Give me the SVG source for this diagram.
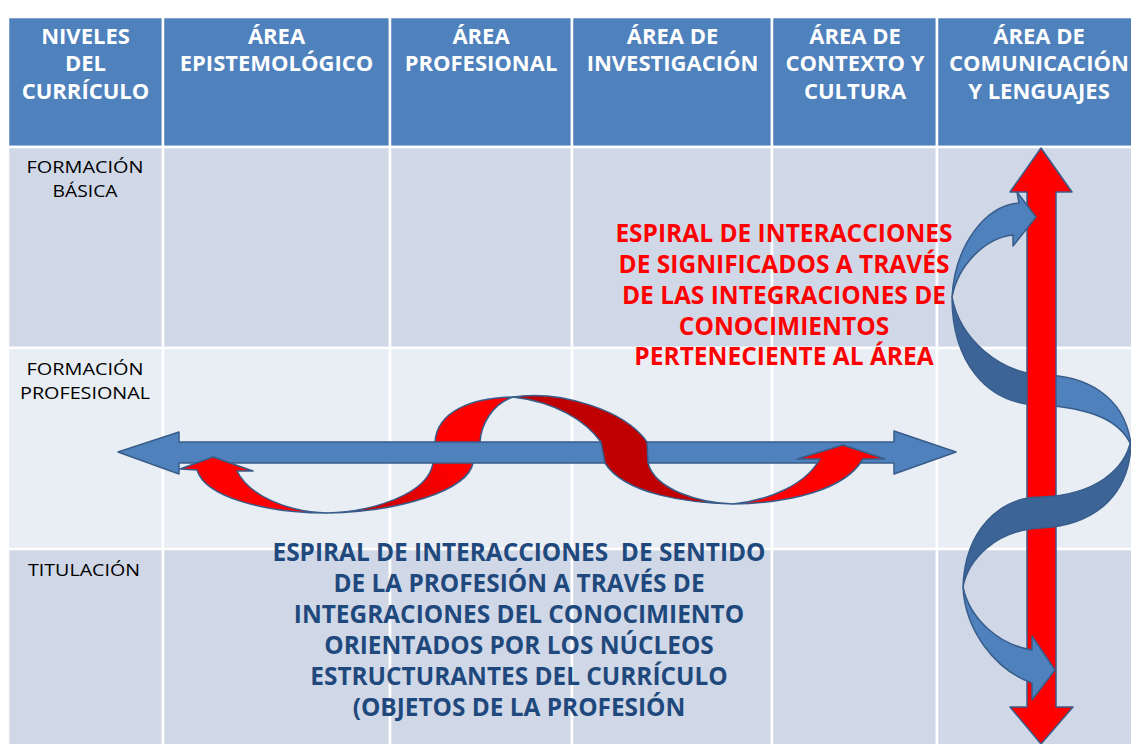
<svg xmlns="http://www.w3.org/2000/svg" width="1131" height="744" viewBox="0 0 1131 744">
<defs>
<style>
.hd{fill:#4F81BD;stroke:#FFFFFF;stroke-width:2.5}
.dk{fill:#D0D8E8;stroke:#FFFFFF;stroke-width:2.5}
.lt{fill:#E9EDF4;stroke:#FFFFFF;stroke-width:2.5}
.ht{font-family:"Open Sans","Liberation Sans",sans-serif;font-weight:bold;font-size:22px;fill:#FFFFFF;text-anchor:middle}
.rl{font-family:"Open Sans","Liberation Sans",sans-serif;font-size:17px;fill:#000000;text-anchor:middle}
.rt{font-family:"Open Sans","Liberation Sans",sans-serif;font-weight:bold;font-size:24.5px;fill:#FF0000;text-anchor:middle}
.bt{font-family:"Open Sans","Liberation Sans",sans-serif;font-weight:bold;font-size:24.4px;fill:#1F497D;text-anchor:middle;white-space:pre}
.ol{stroke:#385D8A;stroke-width:1.5;stroke-linejoin:round}
.blue{fill:#4F81BD}
.dblue{fill:#3D6497}
.red{fill:#FF0000}
.dred{fill:#C00000}
</style>
<linearGradient id="g2" gradientUnits="userSpaceOnUse" x1="360" y1="512" x2="445" y2="462">
<stop offset="0" stop-color="#C00000"/>
<stop offset="1" stop-color="#FF0000"/>
</linearGradient>
</defs>
<rect x="0" y="0" width="1131" height="744" fill="#FFFFFF"/>
<g id="table">
<g id="header">
<rect class="hd" x="8" y="17" width="155" height="130"/>
<rect class="hd" x="163" y="17" width="227" height="130"/>
<rect class="hd" x="390" y="17" width="182" height="130"/>
<rect class="hd" x="572" y="17" width="200" height="130"/>
<rect class="hd" x="772" y="17" width="165" height="130"/>
<rect class="hd" x="937" y="17" width="204" height="130"/>
</g>
<g id="row-basica">
<rect class="dk" x="8" y="147" width="155" height="201"/>
<rect class="dk" x="163" y="147" width="227" height="201"/>
<rect class="dk" x="390" y="147" width="182" height="201"/>
<rect class="dk" x="572" y="147" width="200" height="201"/>
<rect class="dk" x="772" y="147" width="165" height="201"/>
<rect class="dk" x="937" y="147" width="204" height="201"/>
</g>
<g id="row-profesional">
<rect class="lt" x="8" y="348" width="155" height="201"/>
<rect class="lt" x="163" y="348" width="227" height="201"/>
<rect class="lt" x="390" y="348" width="182" height="201"/>
<rect class="lt" x="572" y="348" width="200" height="201"/>
<rect class="lt" x="772" y="348" width="165" height="201"/>
<rect class="lt" x="937" y="348" width="204" height="201"/>
</g>
<g id="row-titulacion">
<rect class="dk" x="8" y="549" width="155" height="205"/>
<rect class="dk" x="163" y="549" width="227" height="205"/>
<rect class="dk" x="390" y="549" width="182" height="205"/>
<rect class="dk" x="572" y="549" width="200" height="205"/>
<rect class="dk" x="772" y="549" width="165" height="205"/>
<rect class="dk" x="937" y="549" width="204" height="205"/>
</g>
</g>
<g id="h-niveles"><text class="ht" x="85.5" y="43.5">NIVELES</text><text class="ht" x="85.5" y="71">DEL</text><text class="ht" x="85.5" y="98.5">CURRÍCULO</text></g>
<g id="h-epistemologico"><text class="ht" x="276.5" y="43.5">ÁREA</text><text class="ht" x="276.5" y="71">EPISTEMOLÓGICO</text></g>
<g id="h-profesional"><text class="ht" x="481" y="43.5">ÁREA</text><text class="ht" x="481" y="71">PROFESIONAL</text></g>
<g id="h-investigacion"><text class="ht" x="672.5" y="43.5">ÁREA DE</text><text class="ht" x="672.5" y="71">INVESTIGACIÓN</text></g>
<g id="h-contexto"><text class="ht" x="855" y="43.5">ÁREA DE</text><text class="ht" x="855" y="71">CONTEXTO Y</text><text class="ht" x="855" y="98.5">CULTURA</text></g>
<g id="h-comunicacion"><text class="ht" x="1039" y="43.5">ÁREA DE</text><text class="ht" x="1039" y="71">COMUNICACIÓN</text><text class="ht" x="1039" y="98.5">Y LENGUAJES</text></g>
<g id="l-basica"><text class="rl" x="85" y="173" textLength="117" lengthAdjust="spacingAndGlyphs">FORMACIÓN</text><text class="rl" x="85" y="197" textLength="65" lengthAdjust="spacingAndGlyphs">BÁSICA</text></g>
<g id="l-profesional"><text class="rl" x="85" y="375" textLength="117" lengthAdjust="spacingAndGlyphs">FORMACIÓN</text><text class="rl" x="85" y="399" textLength="130" lengthAdjust="spacingAndGlyphs">PROFESIONAL</text></g>
<g id="l-titulacion"><text class="rl" x="84" y="576" textLength="112" lengthAdjust="spacingAndGlyphs">TITULACIÓN</text></g>
<g id="t-significados">
<text class="rt" x="784" y="242">ESPIRAL DE INTERACCIONES</text>
<text class="rt" x="784" y="273">DE SIGNIFICADOS A TRAVÉS</text>
<text class="rt" x="784" y="304">DE LAS INTEGRACIONES DE</text>
<text class="rt" x="784" y="335">CONOCIMIENTOS</text>
<text class="rt" x="784" y="365">PERTENECIENTE AL ÁREA</text>
</g>
<g id="t-sentido">
<text class="bt" x="519" y="561" xml:space="preserve">ESPIRAL DE INTERACCIONES  DE SENTIDO</text>
<text class="bt" x="519" y="592">DE LA PROFESIÓN A TRAVÉS DE</text>
<text class="bt" x="519" y="623">INTEGRACIONES DEL CONOCIMIENTO</text>
<text class="bt" x="519" y="654">ORIENTADOS POR LOS NÚCLEOS</text>
<text class="bt" x="519" y="685">ESTRUCTURANTES DEL CURRÍCULO</text>
<text class="bt" x="519" y="716">(OBJETOS DE LA PROFESIÓN</text>
</g>
<g id="connectors">
<path class="ol" fill="url(#g2)" d="M327,513 C400,512 468,490 473,463 L480,442 C481,425 492,404 513,397 C470,398 437,412 435,442 L433,463 C428,495 370,512 327,513 Z"/>
<polygon class="blue ol" points="118,452 179,432 179,442 894,442 894,431 956,452 894,474 894,463 179,463 179,474"/>
<path class="red ol" d="M180,469 L213,457 L253,471 L237,471 C250,497 290,512 327,513 C265,513 205,497 197,470 Z"/>
<path class="dred ol" d="M513,397 C560,390 625,410 647,442 L648,463 C655,490 700,503 733,504 C690,503 625,495 605,463 L601,442 C585,420 555,402 513,397 Z"/>
<path class="red ol" d="M733,504 C790,503 845,490 863,459 L885,459 L843,445 L797,459 L820,459 C805,485 770,500 733,504 Z"/>
<path class="dblue ol" d="M952,297 C952,360 985,405 1041,405 L1041,375 C1000,372 960,340 952,297 Z"/>
<path class="blue ol" d="M1041,375 C1085,375 1125,395 1131,445 C1120,420 1090,408 1041,405 Z"/>
<polygon class="red ol" points="1041,148 1072,192 1056,192 1056,707 1073,707 1041,744 1010,707 1027,707 1027,192 1010,192"/>
<path class="blue ol" d="M1036,217 L1017,192 L1019,203 C985,206 955,245 952,297 C958,265 985,238 1013,235 L1013,246 Z"/>
<path class="dblue ol" d="M1131,440 C1125,470 1095,495 1041,497 C1000,497 965,530 963,587 C968,560 995,530 1041,528 C1100,525 1131,490 1131,440 Z"/>
<path class="blue ol" d="M963,587 C965,630 995,670 1032,683 L1032,700 L1055,670 L1032,636 L1032,650 C1000,645 970,620 963,587 Z"/>
</g>
</svg>
